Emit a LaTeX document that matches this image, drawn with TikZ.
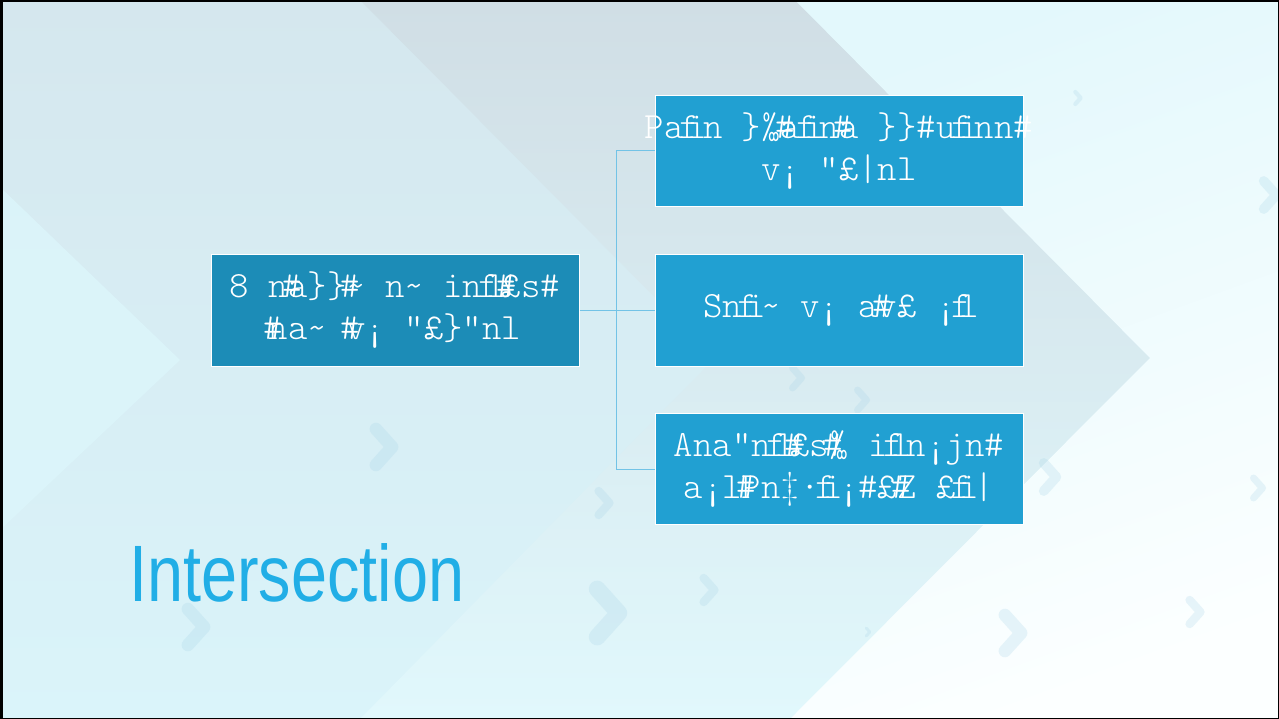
\documentclass[tikz,border=0pt]{standalone}
\usepackage{fontspec}
\setmainfont{Latin Modern Roman}
\newfontfamily\titlefont[FakeStretch=0.81]{Liberation Sans}
\newfontfamily\boxfont{lmmonolt10-regular.otf}
\usetikzlibrary{positioning}
\definecolor{bgtop}{HTML}{D5E7EE}
\definecolor{bgbot}{HTML}{DAF4FA}
\definecolor{bandtop}{HTML}{D0DEE5}
\definecolor{bandmid}{HTML}{DAEFF5}
\definecolor{bandbot}{HTML}{E1F8FC}
\definecolor{righttop}{HTML}{E3F8FC}
\definecolor{rightbot}{HTML}{FCFFFF}
\definecolor{leftchev}{HTML}{DCF6FB}
\definecolor{darkbox}{HTML}{1C8CB7}
\definecolor{lightbox}{HTML}{21A0D2}
\definecolor{linkblue}{HTML}{72C3E6}
\definecolor{titleblue}{HTML}{21AEE6}
\definecolor{chevblue}{HTML}{A8D4E8}
\tikzset{
  boxbase/.style={draw=white, line width=1pt, minimum width=368pt, minimum height=111pt, inner sep=0pt},
  leftbox/.style={boxbase, fill=darkbox},
  rightbox/.style={boxbase, fill=lightbox},
  boxtext/.style={text=white, align=center, inner sep=0pt, font=\boxfont\fontsize{37}{42}\selectfont},
  link/.style={draw=linkblue, line width=1pt},
  chevline/.style={draw=chevblue, line cap=round, line join=round, opacity=0.25}
}
\newcommand\mychev[3]{\draw[chevline, line width=#3*0.7pt] (#1-#3*0.45,#2-#3) -- (#1+#3*0.45,#2) -- (#1-#3*0.45,#2+#3);}
\newcommand\ov[2]{\makebox[0pt][l]{\kern-0.15em#1}#2}
\newcommand\lig[2]{\makebox[0.525em][c]{#1\kern-0.3em#2}}
\begin{document}
\begin{tikzpicture}[x=1pt,y=-1pt]
\useasboundingbox (0,0) rectangle (1279,719);
% background
\shade[top color=bgtop, bottom color=bgbot] (0,0) rectangle (1279,719);
\shade[top color=bandtop, middle color=bandmid, bottom color=bandbot] (360,0) -- (795,0) -- (1150,358) -- (790,719) -- (360,719) -- (715,358) -- cycle;
\shade[top color=righttop, bottom color=rightbot, shading angle=20] (795,0) -- (1279,0) -- (1279,719) -- (790,719) -- (1150,358) -- cycle;
\fill[leftchev, opacity=0.8] (0,187) -- (180,360) -- (0,530) -- cycle;
% faint chevrons
\mychev{1078}{98}{6}
\mychev{1270}{195}{14}
\mychev{797}{378}{10}
\mychev{862}{400}{10}
\mychev{1050}{477}{14}
\mychev{1258}{488}{10}
\mychev{1195}{612}{12}
\mychev{868}{632}{4}
\mychev{1013}{633}{18}
\mychev{709}{590}{12}
\mychev{384}{447}{18}
\mychev{604}{503}{12}
\mychev{608}{613}{24}
\mychev{196}{627}{18}
% boxes
\node[leftbox] (L) at (395,310.5) {};
\node[rightbox] (T) at (839,151) {};
\node[rightbox] (M) at (839,310.5) {};
\node[rightbox] (B) at (839,469) {};
% connectors
\draw[link] (L.east) -- (M.west);
\draw[link] (T.west) -- ++(-38,0) |- (L.east);
\draw[link] (B.west) -- ++(-38,0) |- (L.east);
% box texts
\node[boxtext] (Ltext) at (L.center) {8 n\ov{\#}{a}\}\}\ov{\#}{\textasciitilde} n\textasciitilde{} in\lig{f}{l}\ov{\#}{£}s\#\\\ov{\#}{n}a\textasciitilde{} \ov{\#}{v}¡ ”£\}”nl};
\node[boxtext] (Ttext) at (T.center) {Pa\lig{f}{i}n \}‰\ov{\#}{a}\lig{f}{i}n\ov{\#}{a} \}\}\#u\lig{f}{i}nn\#\\v¡ ”£|nl};
\node[boxtext] (Mtext) at (M.center) {Sn\lig{f}{i}\textasciitilde{} v¡ a\ov{\#}{v}£ ¡\lig{f}{l}};
\node[boxtext] (Btext) at (B.center) {Ana”n\lig{f}{l}\ov{\#}{£}s\ov{\#}{‰} i\lig{f}{l}n¡jn\#\\a¡l\ov{\#}{P}n‡·\lig{f}{i}¡\#£\ov{\#}{Z} £\lig{f}{i}|};
% title
\node[anchor=base west, inner sep=0pt, text=titleblue, font=\titlefont\fontsize{80}{90}\selectfont] (title) at (129,601) {Intersection};
% frame
\draw[black, line width=5pt] (0,0) -- (1279,0);
\draw[black, line width=5pt] (0,0) -- (0,719);
\draw[black, line width=3pt] (0,719) -- (1279,719);
\draw[black, line width=2pt] (1279,0) -- (1279,719);
\end{tikzpicture}
\end{document}
